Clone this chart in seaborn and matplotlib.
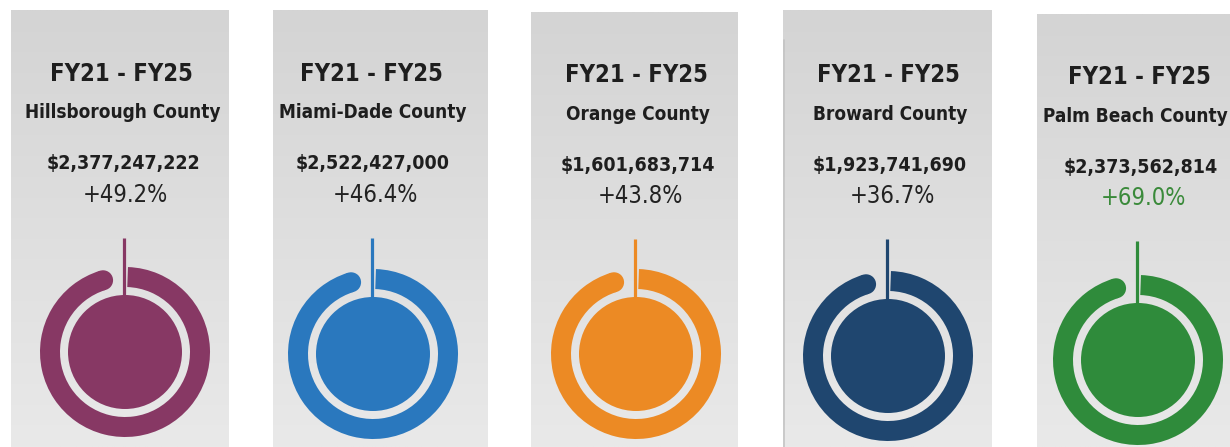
import numpy as np
import matplotlib
matplotlib.use("Agg")
import matplotlib.pyplot as plt
from matplotlib.patches import Wedge, Circle
from matplotlib.colors import LinearSegmentedColormap
import seaborn as sns

period = "FY21 - FY25"
counties = ["Hillsborough County", "Miami-Dade County", "Orange County",
            "Broward County", "Palm Beach County"]
budgets = [2377247222, 2522427000, 1601683714, 1923741690, 2373562814]
growth_pct = [49.2, 46.4, 43.8, 36.7, 69.0]
county_colors = ["#873864", "#2A78BE", "#EC8A24", "#1F466F", "#2F8B3B"]
pct_colors = ["#222222", "#222222", "#222222", "#222222", "#3A8A3A"]

# Layout (image pixel coordinates, y measured from top)
W, H = 1230, 447
card_left = [11, 273, 531, 783, 1037]
card_right = [229, 488, 738, 992, 1245]
card_top = [10, 10, 12, 10, 14]
text_x = [123, 373, 638, 890, 1141]
county_x = [123, 373, 638, 890, 1135]
gauge_x = [125, 373, 636, 888, 1138]
gauge_y = [352, 354, 354, 356, 360]
y_shift = [0, 0, 1, 1, 3]

R_OUT, RING_W, DISK_R = 85, 20, 57

sns.set_theme(style="white")
plt.rcParams["font.family"] = ["DejaVu Sans"]
palette = sns.color_palette(county_colors)

fig = plt.figure(figsize=(12.3, 4.47), dpi=100)
ax = fig.add_axes([0, 0, 1, 1])
ax.set_xlim(0, W)
ax.set_ylim(0, H)
ax.set_aspect("equal")
ax.axis("off")


def Y(y):
    return H - y


card_cmap = LinearSegmentedColormap.from_list("card", ["#D4D4D4", "#E9E9E9"])
grad = np.linspace(0, 1, 256).reshape(-1, 1)
txt = dict(ha="center", va="center", fontstretch="condensed")

for i, county in enumerate(counties):
    # card background
    ax.imshow(grad, cmap=card_cmap, aspect="auto", origin="upper",
              extent=(card_left[i], card_right[i], 0, Y(card_top[i])), zorder=0)

    dy = y_shift[i]
    cx = text_x[i]
    ax.text(cx - 2, Y(74 + dy), period, fontsize=17, fontweight="bold",
            color="#1E1E1E", **txt)
    ax.text(county_x[i], Y(113 + dy), county, fontsize=13.6, fontweight="bold",
            color="#1E1E1E", **txt)
    ax.text(cx, Y(164 + dy), f"${budgets[i]:,}", fontsize=14, fontweight="bold",
            color="#1E1E1E", **txt)
    ax.text(cx + 2, Y(195 + dy), f"+{growth_pct[i]:.1f}%", fontsize=17,
            color=pct_colors[i], **txt)

    # gauge
    col = palette[i]
    gx, gy = gauge_x[i], Y(gauge_y[i])
    end_ang = 107
    ax.add_patch(Wedge((gx, gy), R_OUT, end_ang, 88, width=RING_W,
                       facecolor=col, edgecolor="none", zorder=2))
    mid = R_OUT - RING_W / 2
    ax.add_patch(Circle((gx + mid * np.cos(np.radians(end_ang)),
                         gy + mid * np.sin(np.radians(end_ang))),
                        RING_W / 2, facecolor=col, edgecolor="none", zorder=2))
    ax.add_patch(Circle((gx, gy), DISK_R, facecolor=col, edgecolor="none", zorder=2))
    ax.plot([gx - 1, gx - 1], [Y(238 + dy), gy + DISK_R - 2], color=col,
            lw=2.3, solid_capstyle="butt", zorder=3)

# faint edge on the fourth card
ax.plot([card_left[3] + 1, card_left[3] + 1], [0, Y(40)],
        color="#C4C4C4", lw=1.2, zorder=1)

fig.savefig("out.png", dpi=100, facecolor="white")
